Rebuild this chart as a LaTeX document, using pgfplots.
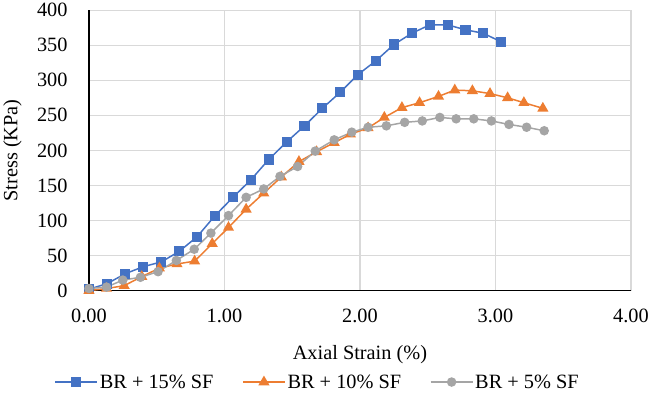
\documentclass[border=0pt]{standalone}
\usepackage{pgfplots}
\pgfplotsset{compat=1.18}
\usepackage{fontspec}
\setmainfont{Liberation Serif}
\definecolor{cblue}{HTML}{4472C4}
\definecolor{corange}{HTML}{ED7D31}
\definecolor{cgray}{HTML}{A5A5A5}
\definecolor{cgrid}{HTML}{D9D9D9}
\begin{document}
\begin{tikzpicture}
\begin{axis}[
  scale only axis,
  width=545bp, height=282bp,
  xmin=0, xmax=4, ymin=0, ymax=400,
  xtick={0,1,2,3,4}, ytick={0,50,...,400},
  font=\fontsize{20.5}{24}\selectfont,
  /pgf/number format/assume math mode=true,
  xticklabel style={/pgf/number format/fixed, /pgf/number format/fixed zerofill, /pgf/number format/precision=2, yshift=-15bp},
  yticklabel style={/pgf/number format/fixed, /pgf/number format/precision=0, xshift=-18bp},
  axis x line=bottom, axis y line=left,
  axis line style={-, black, line width=1.6bp},
  major tick length=0pt,
  grid=major,
  major grid style={cgrid, line width=1.3bp},
  xlabel={Axial Strain (\%)},
  ylabel={Stress (KPa)},
  xlabel style={at={(axis description cs:0.5,-0.23)}, anchor=center},
  ylabel style={at={(axis description cs:-0.141,0.5)}, anchor=center},
  clip=false,
  legend columns=3,
  legend style={at={(axis description cs:0.422,-0.326)}, anchor=center, draw=none, fill=none,
    /tikz/every even column/.append style={column sep=27bp}},
  legend image code/.code={\draw[mark repeat=2, mark phase=2] plot coordinates {(0bp,0bp) (21bp,0bp) (42bp,0bp)};},
]
\addplot[cblue, line width=1.5bp, mark=square*, mark size=4.3bp, mark options={solid, fill=cblue}] coordinates {
(0,2) (0.135,10) (0.267,24) (0.399,34) (0.535,41) (0.667,56) (0.799,77) (0.931,107) (1.063,133) (1.195,158) (1.327,187) (1.459,212) (1.591,235) (1.723,260) (1.855,283) (1.985,308) (2.119,328) (2.251,351) (2.383,367) (2.515,379) (2.647,379) (2.779,372) (2.911,367) (3.04,355)
};
\addlegendentry{BR + 15\% SF}
\addplot[corange, line width=1.5bp, mark=triangle*, mark size=5bp, mark options={solid, fill=corange}] coordinates {
(0,0) (0.13,3) (0.26,7) (0.39,20) (0.52,32) (0.65,38) (0.78,42) (0.91,67) (1.03,90) (1.16,116) (1.29,139) (1.42,162) (1.55,184) (1.68,198) (1.81,211) (1.93,223) (2.06,232) (2.18,247) (2.31,261) (2.44,268) (2.58,277) (2.70,286) (2.83,285) (2.96,281) (3.09,275) (3.21,268) (3.35,260)
};
\addlegendentry{BR + 10\% SF}
\addplot[cgray, line width=1.5bp, mark=*, mark size=4bp, mark options={solid, fill=cgray}] coordinates {
(0,3) (0.13,5) (0.25,15) (0.38,19) (0.51,27) (0.645,43) (0.777,59) (0.90,82) (1.03,107) (1.16,133) (1.29,145) (1.41,163) (1.54,177) (1.67,199) (1.81,215) (1.94,226) (2.06,233) (2.195,235) (2.33,240) (2.46,242) (2.59,247) (2.71,245) (2.84,245) (2.97,242) (3.10,237) (3.23,233) (3.36,228)
};
\addlegendentry{BR + 5\% SF}
\end{axis}
\end{tikzpicture}
\end{document}
